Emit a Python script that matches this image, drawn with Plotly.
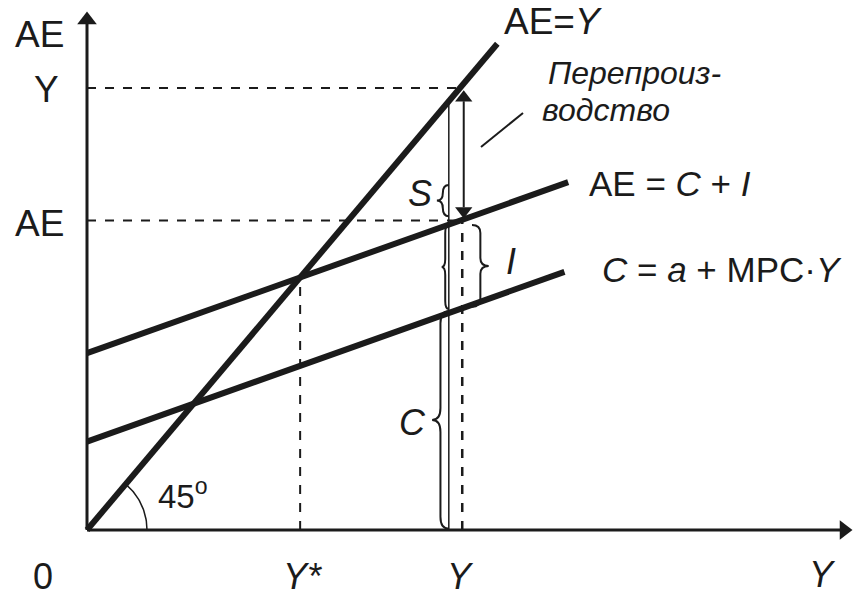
import numpy as np
import plotly.graph_objects as go

# model parameters
a = 20          # autonomous consumption
invest = 20     # investment
mpc = 0.3       # marginal propensity to consume
y_over = 100    # output level with overproduction
y_end_45 = 110
y_end_lines = [129, 128]   # right ends of AE=C+I and C lines

y_star = (a + invest) / (1 - mpc)
ae_at_y = a + invest + mpc * y_over
c_at_y = a + mpc * y_over

INK = "#1b1b1b"
FONT = "Liberation Sans"

# pixel -> data helpers (0 margin: the plot area is the whole page)
PX0, PY0, SX, SY = 87, 530, 3.73, 4.42
W, H = 859, 598


def dx(px):
    return (px - PX0) / SX


def dy(py):
    return (PY0 - py) / SY


fig = go.Figure()


def seg(x, y, width=2, dash=None):
    fig.add_trace(go.Scatter(x=x, y=y, mode="lines", hoverinfo="skip",
                             line=dict(color=INK, width=width, dash=dash)))


def head(x, y, symbol, size=16):
    fig.add_trace(go.Scatter(x=[x], y=[y], mode="markers", hoverinfo="skip",
                             marker=dict(symbol=symbol, size=size, color=INK,
                                         line=dict(width=0))))


# 45 degree line
seg([0, y_end_45], [0, y_end_45], width=6)
# AE = C + I
xs = np.array([0, y_end_lines[0]])
seg(xs, a + invest + mpc * xs, width=6)
# C = a + MPC*Y
xs = np.array([0, y_end_lines[1]])
seg(xs, a + mpc * xs, width=6)

# dashed guides
seg([0, y_over], [y_over, y_over], dash="dash")
seg([0, y_over], [ae_at_y, ae_at_y], dash="dash")
seg([y_star, y_star], [0, y_star], dash="dash")
seg([y_over + 0.6, y_over + 0.6], [0, ae_at_y], width=2.5, dash="dash")

# thin measuring line with braces
xb = y_over - 3
seg([xb, xb], [0, y_over - 3], width=1.5)


def brace(x, y0, y1, w, r):
    m = (y0 + y1) / 2
    return (f"M {x},{y0} Q {x + w},{y0} {x + w},{y0 + r} L {x + w},{m - r} "
            f"Q {x + w},{m} {x + 2 * w},{m} Q {x + w},{m} {x + w},{m + r} "
            f"L {x + w},{y1 - r} Q {x + w},{y1} {x},{y1}")


bw, br = 1.6, 1.8
fig.add_shape(type="path", path=brace(xb, ae_at_y + 1, dy(185), -bw, br),
              line=dict(color=INK, width=2))
fig.add_shape(type="path", path=brace(xb, c_at_y, ae_at_y - 1, -bw * 0.6, br),
              line=dict(color=INK, width=2))
fig.add_shape(type="path", path=brace(dx(472), c_at_y + 0.5, ae_at_y - 1, bw * 1.4, br),
              line=dict(color=INK, width=2))
fig.add_shape(type="path", path=brace(xb, 0.3, c_at_y - 0.5, -bw * 1.4, br * 1.5),
              line=dict(color=INK, width=2))

# 45 degree arc
t = np.linspace(0, np.arctan(SY / SX), 30)
seg(60 * np.cos(t) / SX, 60 * np.sin(t) / SY, width=1.5)

# pointer line for the overproduction note
seg([dx(481), dx(523)], [dy(147), dy(113)], width=2)

# axes with arrows
seg([0, dx(842)], [0, 0], width=3)
head(dx(844), 0, "triangle-right", 17)
seg([0, 0], [0, dy(22)], width=3)
head(0, dy(20), "triangle-up", 17)

# double arrow: gap between Y and AE (overproduction)
xa = y_over + 1
seg([xa, xa], [ae_at_y + 3, y_over - 3], width=2)
head(xa, y_over - 2.2, "triangle-up", 15)
head(xa, ae_at_y + 2.2, "triangle-down", 15)

labels = [
    ("AE", 39, 35, 37, False), ("Y", 46, 89, 37, False), ("AE", 39, 224, 37, False),
    ("0", 43, 576, 36, False), ("Y*", 302, 576, 36, True), ("Y", 460, 576, 36, True),
    ("Y", 822, 574, 36, True), ("AE=<i>Y</i>", 553, 22, 37, False),
    ("Перепроиз-", 634, 73, 32, True), ("водство", 606, 110, 32, True),
    ("AE = <i>C</i> + <i>I</i>", 670, 183, 35, False),
    ("<i>C</i> = <i>a</i> + MPC·<i>Y</i>", 722, 270, 35, False),
    ("S", 420, 193, 36, True), ("I", 511, 261, 36, True), ("C", 412, 422, 36, True),
    ("45<sup>o</sup>", 183, 494, 33, False),
]
for txt, px, py, size, ital in labels:
    if ital and "<" not in txt:
        txt = f"<i>{txt}</i>"
    fig.add_annotation(x=px / W, y=1 - py / H, xref="paper", yref="paper", text=txt,
                       showarrow=False, font=dict(family=FONT, size=size, color=INK),
                       xanchor="center", yanchor="middle")

fig.update_xaxes(range=[dx(0), dx(W)], visible=False)
fig.update_yaxes(range=[dy(H), dy(0)], visible=False)
fig.update_layout(width=W, height=H, margin=dict(l=0, r=0, t=0, b=0),
                  plot_bgcolor="white", paper_bgcolor="white", showlegend=False)

fig.write_html("out.html", config={"displayModeBar": False},
               post_script="document.body.style.margin='0';")
